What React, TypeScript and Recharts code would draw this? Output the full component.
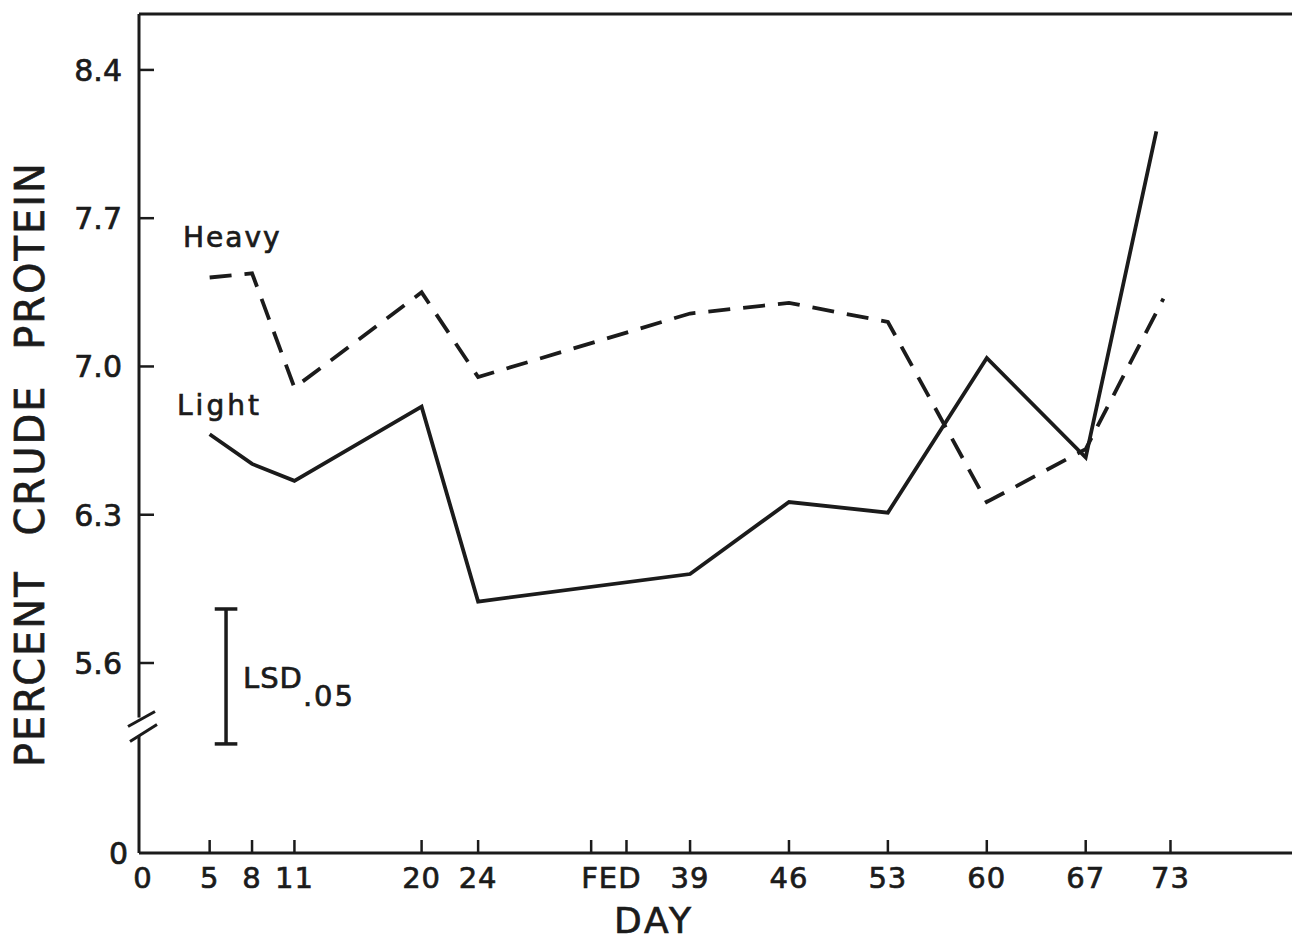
import React from 'react';
import { LineChart, Line, XAxis, YAxis, ReferenceLine, ReferenceDot } from 'recharts';

const FONT = '"DejaVu Sans", "Liberation Sans", sans-serif';
const INK = '#1b1b1b';

// ---- data ----
const heavyDays = [5, 8, 11, 20, 24, 39, 46, 53, 60, 67, 72.5];
const heavyPct = [7.42, 7.44, 6.9, 7.35, 6.95, 7.25, 7.3, 7.21, 6.36, 6.61, 7.32];
const lightDays = [5, 8, 11, 20, 24, 39, 46, 53, 60, 67, 72];
const lightPct = [6.68, 6.54, 6.46, 6.81, 5.89, 6.02, 6.36, 6.31, 7.04, 6.57, 8.11];

// ---- axes ----
const xTickValues = [0, 5, 8, 11, 20, 24, 32, 34.5, 39, 46, 53, 60, 67, 73];
const xTickLabels = ['0', '5', '8', '11', '20', '24', 'FED', '', '39', '46', '53', '60', '67', '73'];
const X_DOMAIN: [number, number] = [0, 81.6];

const Y_FLOOR = 4.703; // broken-axis origin, labelled "0"
const BREAK_VALUE = 5.3; // where the axis break marks sit
const yTickValues = [Y_FLOOR, BREAK_VALUE, 5.6, 6.3, 7.0, 7.7, 8.4];
const yTickLabels = ['0', '', '5.6', '6.3', '7.0', '7.7', '8.4'];
const Y_DOMAIN: [number, number] = [Y_FLOOR, 8.664];

// ---- annotations ----
const LSD_DAY = 6.16;
const LSD_LOW = 5.218;
const LSD_HIGH = 5.855;
const LSD_HALF_CAP = 0.8;
const heavyLabel = { day: 3.11, pct: 7.564, text: 'Heavy' };
const lightLabel = { day: 2.69, pct: 6.771, text: 'Light' };
const lsdLabel = { day: 7.36, pct: 5.482 };

const heavyData = heavyDays.map((d, i) => ({ day: d, pct: heavyPct[i] }));
const lightData = lightDays.map((d, i) => ({ day: d, pct: lightPct[i] }));

const textStyle = { fontFamily: FONT, fill: INK, stroke: INK, strokeWidth: 0.7 } as const;

const renderXTick = (props: any) => {
  const { x, y, payload } = props;
  const idx = xTickValues.indexOf(payload.value);
  const label = idx >= 0 ? xTickLabels[idx] : '';
  const isOrigin = payload.value === 0;
  const isFed = label === 'FED';
  return (
    <g>
      {!isOrigin && <line x1={x} y1={y} x2={x} y2={y - 13} stroke={INK} strokeWidth={2.5} />}
      {label && (
        <text
          x={isFed ? x - 10 : isOrigin ? x + 4 : x}
          y={y + 35}
          textAnchor={isFed ? 'start' : 'middle'}
          fontSize={29}
          letterSpacing={1}
          style={textStyle}
        >
          {label}
        </text>
      )}
    </g>
  );
};

const renderYTick = (props: any) => {
  const { x, y, payload } = props;
  if (payload.value === BREAK_VALUE) {
    return (
      <g>
        <rect x={x - 3} y={y - 9} width={6} height={18} fill="#ffffff" />
        <line x1={x - 11} y1={y} x2={x + 16} y2={y - 15} stroke={INK} strokeWidth={3} />
        <line x1={x - 9} y1={y + 15} x2={x + 18} y2={y - 2} stroke={INK} strokeWidth={3} />
      </g>
    );
  }
  const idx = yTickValues.indexOf(payload.value);
  const label = idx >= 0 ? yTickLabels[idx] : '';
  const isOrigin = payload.value === Y_FLOOR;
  return (
    <g>
      {!isOrigin && <line x1={x} y1={y} x2={x + 15} y2={y} stroke={INK} strokeWidth={2.5} />}
      <text x={x - (isOrigin ? 11 : 17)} y={y + 11} textAnchor="end" fontSize={30} style={textStyle}>
        {label}
      </text>
    </g>
  );
};

const renderYTitle = (props: any) => {
  const vb = props.viewBox || { x: 0, y: 0 };
  const cx = vb.x + 30;
  const cy = 464;
  return (
    <text
      x={cx}
      y={cy}
      transform={`rotate(-90 ${cx} ${cy})`}
      textAnchor="middle"
      dominantBaseline="central"
      fontSize={40}
      letterSpacing={2}
      wordSpacing={20}
      style={textStyle}
    >
      PERCENT CRUDE PROTEIN
    </text>
  );
};

const renderXTitle = (props: any) => {
  const vb = props.viewBox || { x: 0, y: 0 };
  return (
    <text x={vb.x + 515} y={vb.y + 80} textAnchor="middle" fontSize={36} letterSpacing={3} style={textStyle}>
      DAY
    </text>
  );
};

const wordLabel = (text: string, size: number, spacing: number) => (props: any) => {
  const vb = props.viewBox || { x: 0, y: 0 };
  return (
    <text x={vb.x} y={vb.y} fontSize={size} letterSpacing={spacing} style={textStyle}>
      {text}
    </text>
  );
};

const renderLsdLabel = (props: any) => {
  const vb = props.viewBox || { x: 0, y: 0 };
  return (
    <text x={vb.x} y={vb.y} fontSize={29} letterSpacing={1} style={textStyle}>
      LSD
      <tspan dy={18} letterSpacing={2}>.05</tspan>
    </text>
  );
};

export default function App() {
  return (
    <div style={{ position: 'absolute', left: 0, top: 0, width: 1292, height: 944, background: '#ffffff' }}>
      <LineChart width={1292} height={944} margin={{ top: 14, right: 0, bottom: 0, left: 0 }}>
        <XAxis
          type="number"
          dataKey="day"
          domain={X_DOMAIN}
          ticks={xTickValues}
          interval={0}
          height={91}
          tickSize={0}
          tickMargin={0}
          tickLine={false}
          axisLine={{ stroke: INK, strokeWidth: 3 }}
          tick={renderXTick}
          label={renderXTitle}
        />
        <YAxis
          type="number"
          dataKey="pct"
          domain={Y_DOMAIN}
          ticks={yTickValues}
          interval={0}
          width={139}
          tickSize={0}
          tickMargin={0}
          tickLine={false}
          axisLine={{ stroke: INK, strokeWidth: 3 }}
          tick={renderYTick}
          label={renderYTitle}
        />
        <ReferenceLine y={Y_DOMAIN[1]} stroke={INK} strokeWidth={3} />
        <ReferenceLine
          segment={[{ x: LSD_DAY, y: LSD_LOW }, { x: LSD_DAY, y: LSD_HIGH }]}
          stroke={INK}
          strokeWidth={3.5}
        />
        <ReferenceLine
          segment={[{ x: LSD_DAY - LSD_HALF_CAP, y: LSD_LOW }, { x: LSD_DAY + LSD_HALF_CAP, y: LSD_LOW }]}
          stroke={INK}
          strokeWidth={3.5}
        />
        <ReferenceLine
          segment={[{ x: LSD_DAY - LSD_HALF_CAP, y: LSD_HIGH }, { x: LSD_DAY + LSD_HALF_CAP, y: LSD_HIGH }]}
          stroke={INK}
          strokeWidth={3.5}
        />
        <ReferenceDot x={heavyLabel.day} y={heavyLabel.pct} r={0} fill="none" stroke="none" label={wordLabel(heavyLabel.text, 28, 2)} />
        <ReferenceDot x={lightLabel.day} y={lightLabel.pct} r={0} fill="none" stroke="none" label={wordLabel(lightLabel.text, 28, 3)} />
        <ReferenceDot x={lsdLabel.day} y={lsdLabel.pct} r={0} fill="none" stroke="none" label={renderLsdLabel} />
        <Line
          data={heavyData}
          dataKey="pct"
          type="linear"
          stroke={INK}
          strokeWidth={3.8}
          strokeDasharray="22 13"
          dot={false}
          activeDot={false}
          isAnimationActive={false}
        />
        <Line
          data={lightData}
          dataKey="pct"
          type="linear"
          stroke={INK}
          strokeWidth={3.8}
          dot={false}
          activeDot={false}
          isAnimationActive={false}
        />
      </LineChart>
    </div>
  );
}
